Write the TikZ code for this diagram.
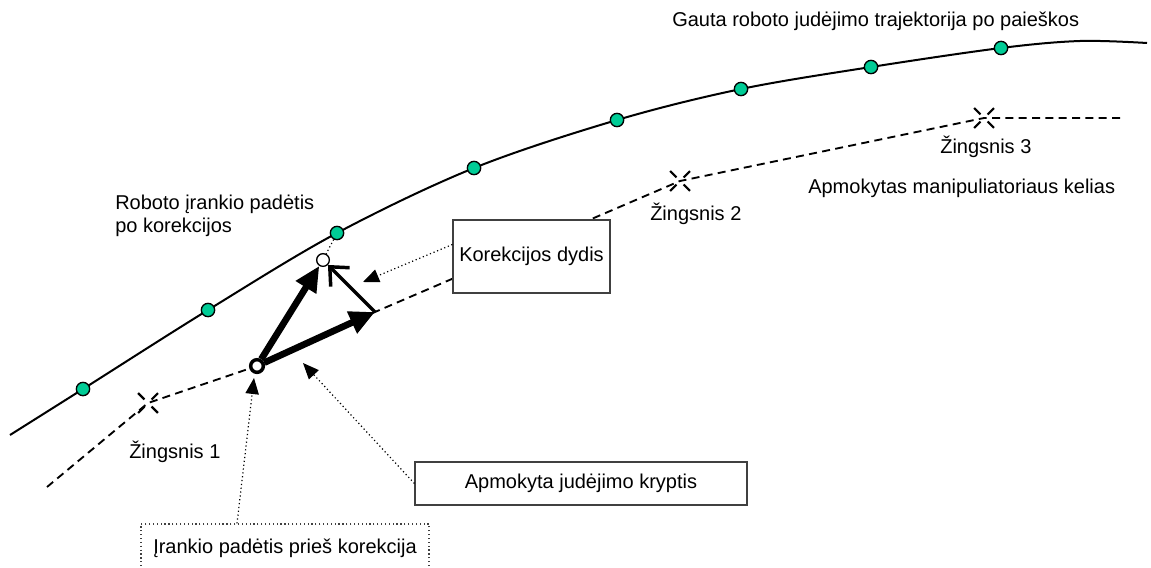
\documentclass[tikz,border=0pt]{standalone}
\usepackage{fontspec}
\setmainfont{Liberation Sans}
\usetikzlibrary{arrows.meta, positioning}
\definecolor{DotGreen}{RGB}{0,204,150}
\definecolor{BoxGray}{RGB}{64,64,64}

\begin{document}
\begin{tikzpicture}[x=0.75pt, y=-0.75pt,
  font=\fontsize{15}{17.25}\selectfont,
  dot/.style={circle, draw=black, fill=DotGreen, line width=1pt,
              minimum size=10pt, inner sep=0pt},
  toolpos/.style={circle, draw=black, fill=white, minimum size=9.5pt,
                  inner sep=0pt},
  lbl/.style={anchor=base west, inner sep=0pt},
  box/.style={draw=BoxGray, fill=white, line width=0.9pt, inner sep=0pt},
  traj/.style={line width=1.5pt},
  route/.style={dash pattern=on 6pt off 4pt, line width=1.4pt},
  stepx/.style={line width=1.6pt},
  bigarr/.style={-{Triangle[length=19pt,width=17pt]}, line width=5pt},
  corr/.style={-{Straight Barb[length=11pt,width=20pt]}, line width=2.6pt},
  ptr/.style={-{Triangle[length=12pt,width=10pt]}, dotted, line width=0.9pt},
]
\useasboundingbox (0,0) rectangle (1151,567);

% robot trajectory after search
\draw[traj] plot[smooth, tension=0.55] coordinates {(10,435) (83,389)
  (208,310) (337,233) (474,168) (617,120) (741,89) (871,67) (1001,48)
  (1080,41) (1147,43)};

% taught path
\coordinate (a0) at (47,487);
\coordinate (s1) at (148,403);
\coordinate (q0) at (257,366);
\coordinate (c2) at (375,312);
\coordinate (s2) at (680,181);
\coordinate (s3) at (984,118);
\coordinate (a1) at (1120,118);
\draw[route] (a0) -- (s1) -- (q0) -- (c2) -- (s2) -- (s3) -- (a1);

\foreach \s in {s1,s2,s3}
  \foreach \a in {45,135,225,315}
    \draw[stepx] ([shift={(\a:5)}]\s) -- ([shift={(\a:14)}]\s);

% boxes
\node[box, minimum width=117.75pt, minimum height=54.75pt]
  (kd) at (531.5,256.5) {Korekcijos dydis};
\node[box, minimum width=249pt, minimum height=32.25pt]
  (ak) at (581,483.5) {Apmokyta judėjimo kryptis};
\node[box, dotted, minimum width=216pt, minimum height=36pt]
  (ik) at (285,548) {Įrankio padėtis prieš korekcija};

% dots on the trajectory
\foreach \x/\y [count=\i] in {83/389, 208/310, 337/233, 474/168,
                             617/120, 741/89, 871/67, 1001/48}
  \node[dot] (d\i) at (\x,\y) {};

% tool positions
\node[toolpos, line width=2.6pt] (p0) at (q0) {};
\node[toolpos, line width=1pt] (p1) at (323,260) {};
\draw[dotted, line width=0.9pt] (d3) -- (p1);

\draw[bigarr] (p0) -- (p1);
\draw[bigarr] (p0) -- (c2);
\draw[corr] (c2) -- (p1);

% labels
\node[lbl] (title) at (672,27) {Gauta roboto judėjimo trajektorija po paieškos};
\node[anchor=north west, align=left, inner sep=0pt]
  (after) at (115,195) {Roboto įrankio padėtis\\po korekcijos};
\node[lbl] (z1) at (129,458) {Žingsnis 1};
\node[lbl] (z2) at (650,220) {Žingsnis 2};
\node[lbl] (z3) at (940,153) {Žingsnis 3};
\node[lbl] (path) at (808,193) {Apmokytas manipuliatoriaus kelias};

% pointers
\coordinate (k1) at (363,282);
\coordinate (k2) at (303,363);
\coordinate (k3) at (254,378);
\draw[ptr] ([yshift=9pt]kd.west) -- (k1);
\draw[ptr] (ak.west) -- (k2);
\draw[ptr] ([xshift=-36pt]ik.north) -- (k3);
\end{tikzpicture}
\end{document}
